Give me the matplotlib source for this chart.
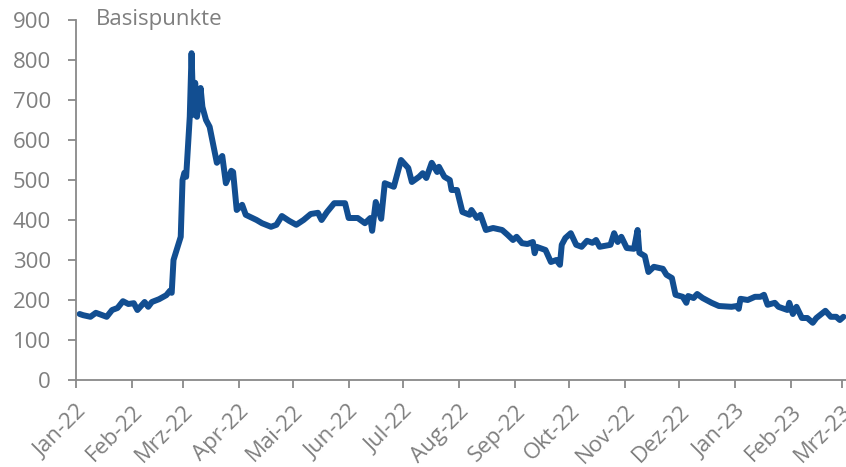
import matplotlib
matplotlib.use("Agg")
import matplotlib.pyplot as plt
import pandas as pd

# Spread series in basis points
dates = [
    "2022-01-03", "2022-01-05", "2022-01-09", "2022-01-12", "2022-01-18", "2022-01-21",
    "2022-01-24", "2022-01-27", "2022-01-30", "2022-02-02", "2022-02-04", "2022-02-08",
    "2022-02-10", "2022-02-12", "2022-02-16", "2022-02-20", "2022-02-22", "2022-02-23",
    "2022-02-24", "2022-02-28", "2022-03-01", "2022-03-02", "2022-03-03", "2022-03-05",
    "2022-03-06", "2022-03-07", "2022-03-08", "2022-03-09", "2022-03-11", "2022-03-12",
    "2022-03-14", "2022-03-16", "2022-03-20", "2022-03-23", "2022-03-25", "2022-03-28",
    "2022-03-29", "2022-03-31", "2022-04-03", "2022-04-05", "2022-04-11", "2022-04-14",
    "2022-04-19", "2022-04-22", "2022-04-25", "2022-04-29", "2022-05-03", "2022-05-07",
    "2022-05-11", "2022-05-15", "2022-05-17", "2022-05-20", "2022-05-24", "2022-05-30",
    "2022-06-01", "2022-06-06", "2022-06-10", "2022-06-13", "2022-06-14", "2022-06-16",
    "2022-06-19", "2022-06-21", "2022-06-26", "2022-06-30", "2022-07-04", "2022-07-06",
    "2022-07-10", "2022-07-12", "2022-07-14", "2022-07-17", "2022-07-20", "2022-07-21",
    "2022-07-24", "2022-07-27", "2022-07-28", "2022-07-31", "2022-08-03", "2022-08-07",
    "2022-08-08", "2022-08-11", "2022-08-13", "2022-08-16", "2022-08-20", "2022-08-25",
    "2022-08-28", "2022-08-31", "2022-09-02", "2022-09-05", "2022-09-08", "2022-09-11",
    "2022-09-12", "2022-09-13", "2022-09-18", "2022-09-21", "2022-09-24", "2022-09-26",
    "2022-09-27", "2022-09-29", "2022-10-02", "2022-10-05", "2022-10-08", "2022-10-11",
    "2022-10-14", "2022-10-16", "2022-10-18", "2022-10-24", "2022-10-26", "2022-10-28",
    "2022-10-30", "2022-11-02", "2022-11-06", "2022-11-08", "2022-11-09", "2022-11-12",
    "2022-11-14", "2022-11-17", "2022-11-22", "2022-11-24", "2022-11-27", "2022-11-29",
    "2022-12-03", "2022-12-05", "2022-12-06", "2022-12-09", "2022-12-11", "2022-12-14",
    "2022-12-19", "2022-12-23", "2022-12-30", "2023-01-02", "2023-01-03", "2023-01-04",
    "2023-01-08", "2023-01-12", "2023-01-15", "2023-01-17", "2023-01-19", "2023-01-23",
    "2023-01-25", "2023-01-30", "2023-01-31", "2023-02-02", "2023-02-04", "2023-02-07",
    "2023-02-10", "2023-02-13", "2023-02-15", "2023-02-20", "2023-02-23", "2023-02-26",
    "2023-02-28", "2023-03-02",
]
spread_bp = [
    165, 162, 158, 168, 158, 175,
    180, 197, 190, 192, 175, 195,
    183, 195, 202, 212, 223, 218,
    300, 358, 500, 518, 508, 658,
    817, 663, 743, 658, 730, 683,
    650, 633, 543, 560, 492, 523,
    520, 425, 438, 413, 400, 392,
    383, 388, 410, 398, 388, 400,
    415, 418, 400, 420, 442, 442,
    405, 405, 392, 405, 373, 445,
    403, 492, 483, 550, 530, 495,
    508, 517, 505, 543, 520, 533,
    508, 500, 475, 475, 420, 413,
    425, 405, 413, 375, 380, 375,
    363, 350, 358, 342, 340, 345,
    317, 333, 325, 295, 300, 288,
    338, 355, 367, 338, 333, 348,
    343, 350, 333, 338, 367, 345,
    358, 330, 328, 375, 318, 310,
    270, 283, 278, 263, 255, 213,
    208, 193, 210, 205, 215, 205,
    193, 185, 183, 185, 178, 203,
    200, 208, 208, 213, 188, 193,
    183, 175, 193, 165, 183, 155,
    155, 143, 155, 173, 158, 158,
    150, 158,
]

tick_dates = [
    "2022-01-01", "2022-02-01", "2022-03-01", "2022-04-01", "2022-05-01",
    "2022-06-01", "2022-07-01", "2022-08-01", "2022-09-01", "2022-10-01",
    "2022-11-01", "2022-12-01", "2023-01-01", "2023-02-01", "2023-03-01",
]
tick_labels = [
    "Jan-22", "Feb-22", "Mrz-22", "Apr-22", "Mai-22", "Jun-22", "Jul-22",
    "Aug-22", "Sep-22", "Okt-22", "Nov-22", "Dez-22", "Jan-23", "Feb-23", "Mrz-23",
]
y_ticks = [0, 100, 200, 300, 400, 500, 600, 700, 800, 900]

plt.rcParams["font.family"] = ["Open Sans", "DejaVu Sans"]

text_grey = "#7f7f7f"
axis_grey = "#898989"
line_blue = "#124e91"

fig = plt.figure(figsize=(8.46, 4.67), dpi=100)
ax = fig.add_axes([76 / 846, 87 / 467, 770 / 846, 360 / 467])

x = pd.to_datetime(dates)
ax.plot(x, spread_bp, color=line_blue, lw=4.3, solid_joinstyle="round",
        solid_capstyle="round")

ax.set_ylim(0, 900)
ax.set_yticks(y_ticks)
ax.set_xlim(pd.Timestamp("2022-01-01"), pd.Timestamp("2023-03-03 10:00"))
ax.set_xticks(pd.to_datetime(tick_dates))
ax.set_xticklabels(tick_labels, rotation=45, ha="right", rotation_mode="anchor")

for side in ("top", "right"):
    ax.spines[side].set_visible(False)
for side in ("left", "bottom"):
    ax.spines[side].set_color(axis_grey)
    ax.spines[side].set_linewidth(1.3)

ax.tick_params(axis="both", colors=axis_grey, labelcolor=text_grey,
               labelsize=16, length=6, width=1.3, direction="out")
ax.tick_params(axis="y", pad=12)
ax.tick_params(axis="x", pad=9)

ax.text(0.026, 1.0, "Basispunkte", transform=ax.transAxes, fontsize=16,
        color=text_grey, ha="left", va="center")

fig.savefig("out.png", dpi=100)
